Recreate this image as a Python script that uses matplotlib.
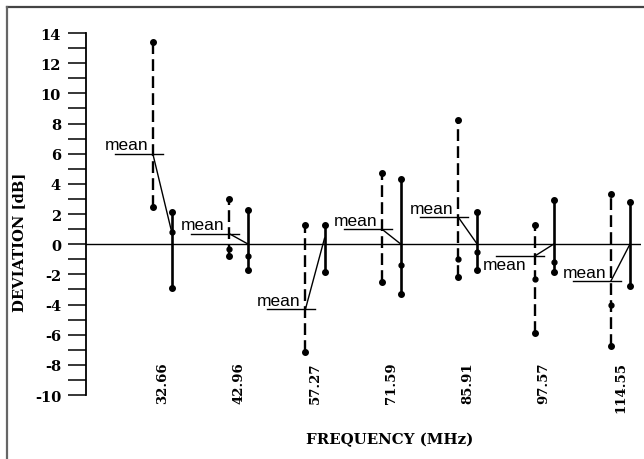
import numpy as np
import matplotlib
matplotlib.use("Agg")
import matplotlib.pyplot as plt
from matplotlib.lines import Line2D

plt.rcParams["axes.unicode_minus"] = False

# frequencies (MHz) as category labels
freqs = ["32.66", "42.96", "57.27", "71.59", "85.91", "97.57", "114.55"]

# dashed bars (first measurement)
dash_top = [13.4, 3.0, 1.25, 4.7, 8.25, 1.3, 3.3]
dash_bot = [2.45, -0.8, -7.15, -2.5, -2.15, -5.9, -6.75]
dash_mid = [np.nan, -0.35, np.nan, np.nan, -1.0, -2.3, -4.05]
dash_mean = [6.0, 0.7, -4.3, 1.0, 1.8, -0.8, -2.45]

# solid bars (second measurement)
solid_top = [2.1, 2.25, 1.3, 4.35, 2.15, 2.95, 2.8]
solid_bot = [-2.9, -1.7, -1.85, -3.3, -1.7, -1.85, -2.75]
solid_mid = [0.8, -0.8, np.nan, -1.35, -0.55, -1.15, np.nan]
solid_mean = [0.75, 0.0, 0.4, 0.0, 0.0, 0.0, 0.0]

# where the "mean" word sits relative to its line
mean_above = [True, True, True, True, True, False, True]

fig = plt.figure(figsize=(6.44, 4.60), dpi=100)
ax = fig.add_axes([86 / 644, 1 - 396 / 460, 555 / 644, 362 / 460])

x = np.arange(1, len(freqs) + 1)
off = 0.125
xd = x - off
xs = x + off

# zero line
ax.axhline(0, color="black", lw=1.0, zorder=1)

for i in range(len(freqs)):
    ax.plot([xd[i], xd[i]], [dash_bot[i], dash_top[i]], color="black", lw=1.7,
            dashes=(5, 2.2), solid_capstyle="butt")
    ax.plot([xd[i], xd[i]], [dash_bot[i], dash_top[i]], "o", color="black", ms=4)
    ax.plot([xs[i], xs[i]], [solid_bot[i], solid_top[i]], color="black", lw=1.9)
    ax.plot([xs[i], xs[i]], [solid_bot[i], solid_top[i]], "o", color="black", ms=4)
    # middle dots
    ax.plot([xd[i]], [dash_mid[i]], "o", color="black", ms=3.5)
    ax.plot([xs[i]], [solid_mid[i]], "o", color="black", ms=3.5)
    # mean marker and connecting slant
    ax.plot([xd[i] - 0.5, xd[i] + 0.13], [dash_mean[i]] * 2, color="black", lw=1.0)
    ax.plot([xd[i], xs[i]], [dash_mean[i], solid_mean[i]], color="black", lw=1.0)
    if mean_above[i]:
        ax.text(xd[i] - 0.06, dash_mean[i] + 0.1, "mean", ha="right", va="bottom",
                fontsize=12.5, family="Liberation Sans")
    else:
        ax.text(xd[i] - 0.1, dash_mean[i] - 0.05, "mean", ha="right", va="top",
                fontsize=12.5, family="Liberation Sans")
    # frequency label inside the plot area
    ax.text(x[i], -7.75, freqs[i], rotation=90, ha="center", va="top",
            fontsize=9.5, fontweight="bold", family="DejaVu Serif")

ax.set_xlim(0, 7.27)
ax.set_ylim(-10, 14)
ax.set_yticks(np.arange(-10, 15, 2))
ax.set_yticks(np.arange(-10, 15, 1), minor=True)
ax.tick_params(axis="y", which="both", direction="out", length=13, width=1.1, pad=5)
ax.set_xticks([])
for lab in ax.get_yticklabels():
    lab.set_fontweight("bold")
    lab.set_family("DejaVu Serif")
    lab.set_fontsize(10.5)
for s in ["top", "right", "bottom"]:
    ax.spines[s].set_visible(False)
ax.spines["left"].set_linewidth(1.3)

fig.text(19 / 644, 1 - 242 / 460, "DEVIATION [dB]", rotation=90, ha="center", va="center",
         fontsize=10.6, fontweight="bold", family="DejaVu Serif")
fig.text(390 / 644, 1 - 440 / 460, "FREQUENCY (MHz)", ha="center", va="center",
         fontsize=10.8, fontweight="bold", family="DejaVu Serif")

# scanned page border (top and left)
fig.add_artist(Line2D([7 / 644, 1], [1 - 8 / 460] * 2, transform=fig.transFigure,
                      color="#444444", lw=1.6))
fig.add_artist(Line2D([7 / 644] * 2, [0, 1 - 8 / 460], transform=fig.transFigure,
                      color="#666666", lw=1.6))

fig.savefig("out.png", dpi=100)
